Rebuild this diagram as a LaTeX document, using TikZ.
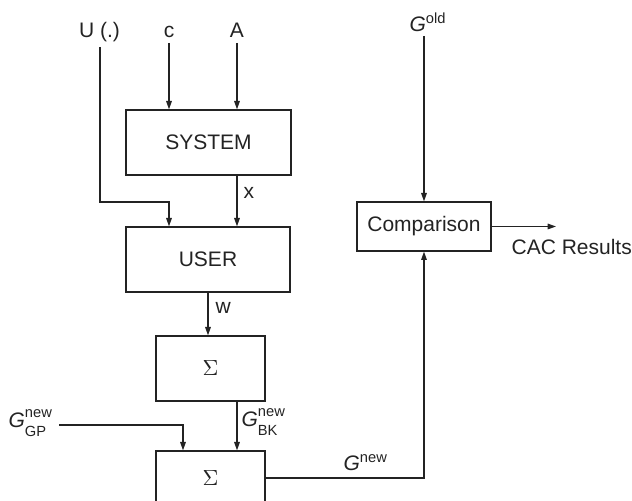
\documentclass[tikz,border=0pt]{standalone}
\usepackage{amsmath}
\usepackage{fontspec}
\setmainfont{Liberation Sans}
\usepackage{tikz}
\usetikzlibrary{arrows.meta,positioning}
\definecolor{LineColor}{RGB}{35,35,35}
\newcommand{\gsub}[2]{\textit{G}$^{\text{\raisebox{1.2pt}{#1}}}_{\text{\raisebox{-1.5pt}{#2}}}$}

\begin{document}
\fontsize{10.5}{12.6}\selectfont
\begin{tikzpicture}[x=0.5pt,y=-0.5pt, line width=0.6pt, LineColor,
    blk/.style={draw, inner sep=0pt, minimum height=32.5pt},
    lbl/.style={inner sep=0pt, anchor=base},
    arr/.style={-{Triangle[length=4.2pt,width=2.8pt]}}]
      \clip (0,0) rectangle (632,501);
      \node[blk, minimum width=82.5pt] (sys) at (208.5,142.5) {SYSTEM};
      \node[blk, minimum width=82pt] (user) at (208,259.5) {USER};
      \node[blk, minimum width=54.5pt] (sumA) at (210.5,368.5) {$\Sigma$};
      \node[blk, minimum width=54.5pt, minimum height=27pt] (sumB) at (210.5,478) {$\Sigma$};
      \node[blk, minimum width=67pt, minimum height=24.5pt] (cmp) at (424,226.5) {Comparison};
      \node[lbl] (lU) at (99.5,38) {U (.)};
      \node[lbl] (lc) at (169,37.5) {c};
      \node[lbl] (lA) at (237,37.5) {A};
      \node[lbl] (lold) at (428,31.5) {\textit{G}$^{\text{old}}$};
      \node[lbl, anchor=base west] (lx) at (243,199) {x};
      \node[lbl, anchor=base west] (lw) at (215,314) {w};
      \node[lbl, anchor=base west] (lbk) at (241,427) {\gsub{new}{BK}};
      \node[lbl, anchor=base west] (lgp) at (8,428) {\gsub{new}{GP}};
      \node[lbl, anchor=base west] (lnew) at (343,470.5) {\textit{G}$^{\text{new}}$};
      \node[lbl, anchor=base west] (lcac) at (511,254.5) {CAC Results};
      \coordinate (cin) at (169,43);
      \coordinate (ain) at (237,43);
      \coordinate (uin) at (100,47);
      \coordinate (uturn) at (169,202);
      \coordinate (gpin) at (59,425);
      \coordinate (gpturn) at (183,425);
      \coordinate (oldin) at (424,36);
      \coordinate (cacend) at (556,226.5);
      \draw[arr] (cin) -- (cin |- sys.north);
      \draw[arr] (ain) -- (ain |- sys.north);
      \draw[arr] (uin) |- (uturn) -- (uturn |- user.north);
      \draw[arr] (ain |- sys.south) -- (ain |- user.north);
      \draw[arr] (user.south) -- (user.south |- sumA.north);
      \draw[arr] (ain |- sumA.south) -- (ain |- sumB.north);
      \draw[arr] (gpin) -- (gpturn) -- (gpturn |- sumB.north);
      \draw[arr] (sumB.east) -| (cmp.south);
      \draw[arr] (oldin) -- (cmp.north);
      \draw[arr] (cmp.east) -- (cacend);
    \end{tikzpicture}
\end{document}
